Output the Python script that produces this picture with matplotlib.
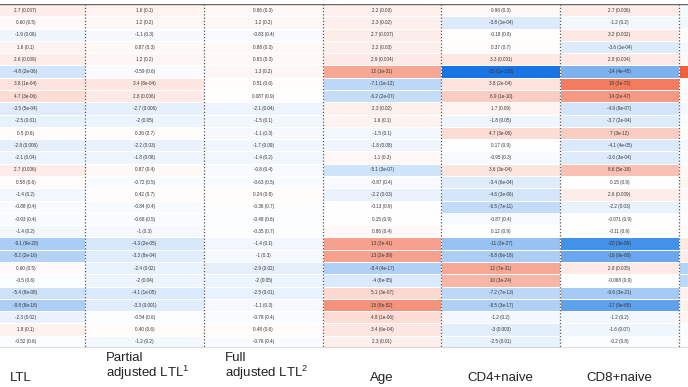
import numpy as np
import matplotlib
matplotlib.use("Agg")
import matplotlib.pyplot as plt
from matplotlib.colors import LinearSegmentedColormap

plt.rcParams['font.family'] = ['Liberation Sans', 'DejaVu Sans']
plt.rcParams['mathtext.fontset'] = 'custom'
plt.rcParams['mathtext.rm'] = 'Liberation Sans'
plt.rcParams['mathtext.it'] = 'Liberation Sans'

headers = ["LTL", "Partial\nadjusted LTL$^{1}$", "Full\nadjusted LTL$^{2}$", "Age", "CD4+naive", "CD8+naive", ""]

ltl = ["2.7 (0.007)", "0.60 (0.5)", "-1.9 (0.06)", "1.6 (0.1)", "2.6 (0.009)", "-4.8 (2e-06)",
       "3.8 (1e-04)", "4.7 (3e-06)", "-3.5 (5e-04)", "-2.5 (0.01)", "0.5 (0.6)", "-2.8 (0.006)",
       "-2.1 (0.04)", "2.7 (0.006)", "0.58 (0.6)", "-1.4 (0.2)", "-0.88 (0.4)", "-0.93 (0.4)",
       "-1.4 (0.2)", "-9.1 (9e-20)", "-8.2 (2e-16)", "0.60 (0.5)", "-0.5 (0.6)", "-5.4 (8e-08)",
       "-8.8 (8e-18)", "-2.3 (0.02)", "1.8 (0.1)", "-0.52 (0.6)"]
partial = ["1.6 (0.1)", "1.2 (0.2)", "-1.1 (0.3)", "0.87 (0.3)", "1.2 (0.2)", "-0.59 (0.6)",
           "3.4 (8e-04)", "2.8 (0.006)", "-2.7 (0.006)", "-2 (0.05)", "0.36 (0.7)", "-2.2 (0.03)",
           "-1.8 (0.08)", "0.87 (0.4)", "-0.72 (0.5)", "0.42 (0.7)", "-0.84 (0.4)", "-0.68 (0.5)",
           "-1 (0.3)", "-4.3 (2e-05)", "-3.3 (8e-04)", "-2.4 (0.02)", "-2 (0.04)", "-4.1 (1e-05)",
           "-3.3 (0.001)", "-0.54 (0.6)", "0.40 (0.6)", "-1.2 (0.2)"]
full = ["0.86 (0.3)", "1.2 (0.2)", "-0.83 (0.4)", "0.88 (0.3)", "0.83 (0.3)", "1.3 (0.2)",
        "0.51 (0.6)", "0.087 (0.9)", "-2.1 (0.04)", "-1.5 (0.1)", "-1.1 (0.3)", "-1.7 (0.09)",
        "-1.4 (0.2)", "-0.8 (0.4)", "-0.63 (0.5)", "0.24 (0.8)", "-0.36 (0.7)", "-0.48 (0.6)",
        "-0.35 (0.7)", "-1.4 (0.1)", "-1 (0.3)", "-2.9 (0.02)", "-2 (0.05)", "-2.5 (0.01)",
        "-1.1 (0.3)", "-0.78 (0.4)", "0.48 (0.6)", "-0.76 (0.4)"]
age = ["2.2 (0.03)", "2.3 (0.02)", "2.7 (0.007)", "2.2 (0.03)", "2.9 (0.004)", "12 (1e-31)",
       "-7.1 (1e-12)", "-6.2 (2e-07)", "2.3 (0.02)", "1.6 (0.1)", "-1.5 (0.1)", "-1.8 (0.08)",
       "1.1 (0.3)", "-5.1 (3e-07)", "-0.87 (0.4)", "-2.2 (0.03)", "-0.13 (0.9)", "0.15 (0.9)",
       "0.86 (0.4)", "13 (3e-41)", "13 (2e-39)", "-8.4 (4e-17)", "-4 (6e-05)", "5.1 (3e-07)",
       "15 (8e-52)", "4.8 (1e-06)", "3.4 (6e-04)", "2.3 (0.01)"]
cd4 = ["0.96 (0.3)", "-3.8 (1e-04)", "-0.18 (0.8)", "0.37 (0.7)", "3.3 (0.001)", "-25 (1e-135)",
       "3.8 (2e-04)", "6.9 (1e-10)", "1.7 (0.09)", "-1.8 (0.05)", "4.7 (3e-06)", "0.17 (0.9)",
       "-0.95 (0.3)", "3.6 (3e-04)", "-3.4 (6e-04)", "-4.6 (3e-06)", "-6.5 (7e-11)", "-0.87 (0.4)",
       "0.12 (0.9)", "-11 (3e-27)", "-8.8 (6e-18)", "12 (7e-31)", "10 (3e-24)", "-7.2 (7e-13)",
       "-8.5 (3e-17)", "-1.2 (0.2)", "-3 (0.003)", "-2.5 (0.01)"]
cd8 = ["2.7 (0.006)", "-1.2 (0.2)", "3.2 (0.002)", "-3.6 (1e-04)", "2.8 (0.004)", "-14 (4e-45)",
       "18 (3e-72)", "14 (2e-47)", "-4.9 (9e-07)", "-3.7 (2e-04)", "7 (3e-12)", "-4.1 (4e-05)",
       "-3.6 (3e-04)", "8.6 (5e-18)", "0.15 (0.9)", "2.6 (0.009)", "-2.2 (0.03)", "-0.071 (0.9)",
       "-0.11 (0.9)", "-20 (3e-89)", "-16 (9e-60)", "2.8 (0.005)", "-0.068 (0.9)", "-9.6 (3e-21)",
       "-17 (9e-65)", "-1.2 (0.2)", "-1.6 (0.07)", "-0.2 (0.8)"]
seventh = [-1, -1.5, 0.5, -1, 0.8, 22, -0.5, 0.5, -1, -0.5, 0.5, -1, -0.8, 1, 1.5, 1, -0.5, 0.3,
           0.5, 3, 2.5, -8, -7, 2, 2, 1.5, -0.5, 0.3]

text_cols = [ltl, partial, full, age, cd4, cd8]
values = np.array([[float(s.split(" ")[0]) for s in col] for col in text_cols] + [seventh])
n_cols, n_rows = values.shape

cmap = LinearSegmentedColormap.from_list("bwr_custom", ["#1776e4", "#ffffff", "#ee4a24"])

W, H = 688, 387
fig = plt.figure(figsize=(W / 100, H / 100), dpi=100)
top_px, bot_px = 4, 348
col_w = 118.8
left_px = 85 - col_w
ax = fig.add_axes([0, 1 - bot_px / H, 1, (bot_px - top_px) / H])
ax.pcolormesh(np.arange(n_cols + 1), np.arange(n_rows + 1), values.T, cmap=cmap,
              vmin=-25, vmax=25, edgecolors="white", linewidth=0.4)
ax.set_xlim(-left_px / col_w, (W - left_px) / col_w)
ax.set_ylim(n_rows, 0)
ax.axis("off")

for c, col in enumerate(text_cols):
    for r, s in enumerate(col):
        ax.text(c + 0.5, r + 0.5, s, ha="center", va="center", fontsize=3.3, color="#333333")

for x in range(1, n_cols):
    ax.plot([x, x], [0, n_rows], color="#555555", lw=0.9, ls=(0, (1, 1.6)), clip_on=False)
for y in (0, n_rows):
    ax.plot([-1, n_cols + 1], [y, y], color="#666666", lw=1.0, clip_on=True)

trans = ax.get_xaxis_transform()
ah = bot_px - top_px
for c, h in enumerate(headers):
    if not h:
        continue
    if "\n" in h:
        ax.text(c + 0.53, -(367 - bot_px) / ah, h, transform=trans, ha="center", va="center",
                multialignment="left", fontsize=9.5, color="#222222", linespacing=1.05)
    else:
        ax.text(c + 0.5 - (0.04 if c == 0 else 0), -(378 - bot_px) / ah, h, transform=trans,
                ha="center", va="center", fontsize=9.5, color="#222222")

fig.savefig("out.png", dpi=100)
